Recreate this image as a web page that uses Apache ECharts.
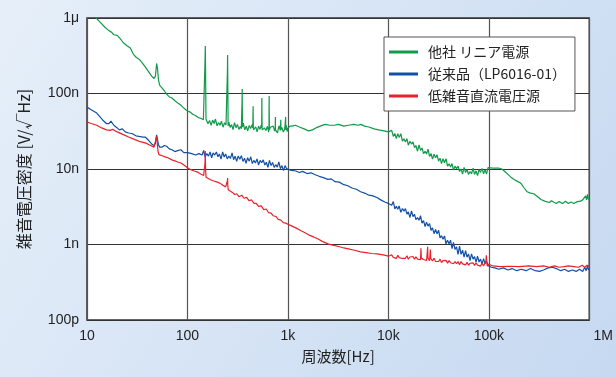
<!DOCTYPE html>
<html>
<head>
<meta charset="utf-8">
<script src="https://cdn.jsdelivr.net/npm/echarts@6/dist/echarts.min.js"></script>
<style>
  html, body { margin: 0; padding: 0; }
  #chart { width: 616px; height: 377px; }
</style>
</head>
<body>
<div id="chart"></div>
<script>
// Noise voltage density [nV/√Hz] vs frequency [Hz]

const seriesNames = ['他社 リニア電源', '従来品（LP6016-01）', '低雑音直流電圧源'];
const xTickLabels = ['10', '100', '1k', '10k', '100k', '1M'];   // 10^1 .. 10^6 Hz
const yTickLabels = ['100p', '1n', '10n', '100n', '1μ'];       // 10^-1 .. 10^3 nV

// 他社 リニア電源
const otherLinear = [
  [12.3,1000],[13.5,880],[15,760],[16.3,690],[17.5,650],[18.5,600],[20,590],[21.5,530],[23,470],[25,430],
  [27,400],[29,330],[31,300],[33,285],[35,260],[38,225],[41,195],[44,170],[46.5,158],[48,170],
  [49.3,250],[50.3,215],[51.5,150],[53,128],[56,118],[59,108],[62,98],[66,90],[70,87],[75,80],
  [80,75],[85,71],[90,66],[95,62],[101,58],[106,57],[113,53],[120,51],[128,48],[136,47],[144,45],
  [148,44],[149.5,260],[150.5,426],[151.5,200],[153,46],
  [155,46],[160,39.7],[166,44.0],[172,37.8],[178,44.5],[184,40.1],[190,45.9],[197,37.4],[204,41.1],[211,38.0],
  [218,42.9],[226,35.8],[234,41.0],[242,38.3],
  [248,38],[250,200],[251,323],[252,150],[254,37],
  [258,41.6],[266,35.6],[275,38.7],[284,33.2],[294,41.1],[304,35.3],[314,38.8],[325,33.5],[336,36.6],[344,34.2],
  [348,36],[349.5,80],[350.5,115],[351.5,70],[353,36],
  [360,40.5],[372,33.1],[385,36.9],[398,31.9],[412,37.8],[426,34.4],[440,38.5],
  [447,35],[449.5,55],[450.5,68],[451.5,45],[454,33],
  [462,32.4],[478,36.1],[494,31.1],[511,36.9],[528,33.4],[543,38.4],
  [548,35],[549.5,65],[550.5,87],[551.5,55],[554,33],
  [565,31.5],[584,34.9],[604,32.4],[625,36.8],[643,30.9],
  [648,35],[649.5,70],[650.5,93],[651.5,60],[654,33],
  [668,35.7],[691,33.7],[714,37.0],[738,31.9],
  [748,34],[750,49],[752,33],
  [762,34.8],[788,30.1],[815,37.4],[840,32.4],
  [848,34],[850,45],[852,33],
  [870,35.6],[900,30.9],[930,33.8],[945,31.8],
  [948,35],[950,49],[952,33],
  [962,37.9],[985,31.2],[1000,34.8],
  [1050,37],[1100,37],[1190,38],[1300,36],[1450,34],[1600,32],[1750,33],[1900,35],[2100,37],[2350,39],
  [2600,38],[2900,38],[3200,39],[3600,37],[4000,38],[4500,39],[5000,38],[5300,39],[5800,37],[6400,36],
  [7200,34],[8000,33],[9000,32],[10000,31],[10400,30],
  [10800,32.5],[11200,27],[11600,29.6],[12000,25.2],[12400,29.4],[12800,26.2],[13300,29.3],[13800,23.4],[14300,25.1],[14800,22.7],
  [15300,25.2],[15800,20.7],[16400,23.3],[17000,21.4],[17600,22.9],[18200,19.2],[18800,20.5],[19500,17.2],[20200,20.9],[20900,17.6],
  [21600,19.0],[22400,16.0],[23200,17.2],[24000,15.8],[24800,18.3],[25700,14.7],[26600,16.0],[27500,13.5],[28500,15.7],[29500,14.1],
  [30500,15.5],[31600,12.7],[32700,13.9],[33800,11.8],[35000,13.7],[36200,12.1],[37500,13.7],[38800,10.9],[40200,11.7],[41600,10.6],
  [43000,11.8],[44500,9.7],[46100,10.9],[47700,10.1],[49400,10.9],[51100,9.26],[52900,10.0],[54800,8.54],[56700,10.5],[58700,9.0],
  [60700,9.86],[62800,8.46],[65000,9.24],[67300,8.65],[69700,10.3],[72100,8.46],[74600,9.46],[77200,8.19],[79900,9.79],[82700,9.02],
  [85600,10.2],[88600,8.65],[91700,9.78],[94900,8.55],[98200,10.4],
  [100000,10.0],[110000,10.3],[125000,10.3],[135000,10.0],[145000,9.2],[155000,8.5],[166000,7.8],[180000,7.2],[195000,6.8],[208000,6.5],
  [225000,5.6],[240000,5.0],[260000,4.8],[280000,4.7],[300000,4.4],[330000,3.95],[360000,3.75],[400000,3.6],[420000,3.8],[440000,3.65],
  [470000,3.5],[500000,3.7],[540000,3.5],[580000,3.75],[620000,3.5],[660000,3.65],[700000,3.5],[760000,3.7],[820000,3.75],[860000,3.9],
  [890000,3.75],[920000,4.4],[940000,3.9],[960000,4.6],[980000,4.0],[1000000,3.9]
];

// 従来品（LP6016-01）
const previousModel = [
  [10,66],[11,61],[12.5,55],[14.3,44.6],[15.6,40],[16.5,40],[17.3,43],[18.5,38],[20,35],[21,33],
  [22.5,34],[24,31],[26,30],[28,29.5],[30.7,27.5],[33,27],[36,26.5],[38,26.5],[41,24],[44,21.5],
  [46.5,20.5],[48,22],[49.3,28.3],[50.3,27],[51.5,21],[53,19.5],[56,19.5],[59,20.5],[62,20],[66,18.5],
  [70,18],[75,17],[80,17.5],[86,18],[92,16.5],[101,16.5],[110,16],[121,15.3],[130,16],
  [140,15.3],[145,17.6],[150,14.4],[156,16.0],[162,14.8],[168,16.8],[174,14.1],[180,16.3],[187,15.3],[194,16.8],
  [201,14.5],[208,15.8],[216,13.5],[224,16.8],[232,14.4],[240,15.8],[249,13.6],[258,14.8],[268,13.8],[278,16.3],
  [288,13.3],[298,14.8],[309,12.6],[320,14.9],[332,13.5],[344,15.0],[357,12.6],[370,13.9],[383,11.9],[397,14.1],
  [412,12.7],[427,14.5],[442,11.8],[458,13.0],[475,12.0],[492,13.6],[510,11.3],[529,13.0],[548,12.1],[568,13.2],
  [589,11.3],[610,12.3],[632,10.5],[655,13.0],[679,11.1],[704,12.2],[730,10.5],[756,11.4],[784,10.6],[812,12.4],
  [842,10.1],[872,11.1],[904,9.5],[937,11.1],[971,10.1],[1000,10.2],
  [1080,9.6],[1200,9.4],[1300,9.0],[1400,9.3],[1550,8.7],[1700,8.9],[1870,8.4],[2050,8.0],[2250,7.7],[2500,7.3],
  [2700,7.4],[2950,6.8],[3250,6.7],[3600,6.2],[3950,6.0],[4350,5.6],[4800,5.4],[5300,5.0],[5800,4.8],[6400,4.5],
  [7000,4.4],[7700,4.2],[8400,3.9],[9200,3.65],[10000,3.5],[10400,3.45],
  [10800,3.3],[11200,3.7],[11600,2.96],[12000,3.21],[12400,2.93],[12800,3.24],[13300,2.67],[13800,3.0],[14300,2.77],[14800,2.99],
  [15300,2.52],[15800,2.7],[16400,2.28],[17000,2.78],[17600,2.34],[18200,2.52],[18800,2.13],[19500,2.28],[20200,2.09],[20900,2.41],
  [21600,1.92],[22400,2.07],[23200,1.73],[24000,1.98],[24800,1.75],[25700,1.89],[26600,1.54],[27500,1.66],[28500,1.39],[29500,1.58],
  [30500,1.39],[31600,1.55],[32700,1.22],[33800,1.31],[35000,1.17],[36200,1.3],[37500,1.02],[38800,1.14],[40200,1.02],[41600,1.14],
  [43000,0.88],[44500,1.07],[46100,0.86],[47700,0.93],[49400,0.74],[51100,0.95],[52900,0.74],[54800,0.84],[56700,0.68],[58700,0.83],
  [60700,0.68],[62800,0.75],[65000,0.61],[67300,0.75],[69700,0.64],[72100,0.69],[74600,0.585],[77200,0.70],[79900,0.586],[82700,0.64],
  [85600,0.55],[88600,0.65],[91700,0.555],[94900,0.61],[98200,0.525],
  [100000,0.55],[106000,0.5],[115000,0.49],[125000,0.47],[140000,0.49],[155000,0.46],[170000,0.48],[190000,0.45],[210000,0.47],[235000,0.45],
  [260000,0.48],[290000,0.45],[320000,0.44],[350000,0.46],[390000,0.49],[430000,0.5],[470000,0.48],[520000,0.45],[570000,0.47],[620000,0.44],
  [680000,0.46],[740000,0.44],[800000,0.47],[860000,0.44],[900000,0.5],[930000,0.45],[960000,0.52],[980000,0.46],[1000000,0.48]
];

// 低雑音直流電圧源
const lowNoiseSource = [
  [10,42],[11,40],[12.5,38],[14,35],[15.6,33],[17,32.5],[18,33.5],[20,31],[23,28.5],[26,26.5],
  [30,24.5],[34,23],[38.5,22],[43,20.5],[46.5,19.5],[48.5,19],[49.3,27],[50.3,26],[51,17],[52,15.5],
  [56,15],[60,14.5],[64.5,14],[70,13.2],[75,12.8],[80,12.4],[86,12],[93,11.2],[100,10.4],[108,9.8],
  [117,9.4],[126,9.1],[135,8.6],[145,8.2],
  [148,8.0],[149.5,12],[150.5,17.3],[151.5,10],[153,7.8],
  [160,7.5],[170,7.2],[180,7.0],[198,6.7],[210,6.5],[225,6.1],[240,5.8],
  [248,5.6],[250,7.0],[251,7.6],[252,6.0],[255,5.3],
  [265,5.1],[280,4.9],[295,4.6],[310,4.7],[325,4.3],[347,4.5],[365,4.1],[388,4.2],[410,3.8],[434,3.9],
  [460,3.5],[485,3.5],[510,3.2],[543,3.25],[575,2.9],[608,2.95],[640,2.65],[680,2.6],[715,2.4],[760,2.35],
  [800,2.15],[850,2.1],[900,1.95],[952,1.92],[1000,1.85],
  [1100,1.75],[1200,1.66],[1350,1.52],[1500,1.42],[1650,1.32],[1800,1.26],[2000,1.18],[2200,1.1],[2500,1.02],[2800,0.98],
  [3200,0.94],[3600,0.9],[4100,0.87],[4600,0.84],[5300,0.8],[6000,0.78],[6800,0.76],[7700,0.75],[8900,0.73],[10000,0.7],
  [10800,0.73],[11200,0.674],[11600,0.704],[12000,0.654],[12400,0.72],[12800,0.67],[13300,0.702],[13800,0.653],[14300,0.685],[14800,0.656],
  [15300,0.708],[15800,0.638],[16400,0.683],[17000,0.661],[17600,0.693],[18200,0.637],[18800,0.688],[19500,0.64],[20200,0.67],[20900,0.628],
  [21100,0.89],[21300,0.66],[21600,0.68],[22400,0.634],[23200,0.663],[24000,0.614],[24400,0.8],[24600,0.93],[24800,0.66],[25700,0.61],
  [26000,0.75],[26200,0.86],[26400,0.655],[27500,0.605],[28500,0.66],[29500,0.595],[30500,0.63],[31600,0.595],[32700,0.64],[33800,0.575],
  [35000,0.612],[36200,0.59],[37500,0.618],[38800,0.567],[40200,0.612],[41600,0.573],[43000,0.6],[44500,0.556],[46100,0.593],[47700,0.556],
  [49400,0.593],[51100,0.54],[52900,0.594],[54800,0.553],[56700,0.579],[58700,0.538],[60700,0.58],[62800,0.53],[65000,0.565],[67300,0.546],
  [69700,0.572],[72100,0.526],[74600,0.573],[77200,0.533],[79900,0.558],[82700,0.518],[85600,0.565],[88600,0.52],[91700,0.55],[93500,0.6],
  [94500,0.72],[95500,0.56],[96500,0.515],[98200,0.55],[100000,0.53],
  [110000,0.52],[130000,0.51],[160000,0.515],[200000,0.51],[250000,0.52],[300000,0.51],[350000,0.52],[400000,0.5],[450000,0.52],
  [500000,0.5],[560000,0.51],[620000,0.52],[700000,0.51],[780000,0.5],[850000,0.53],[900000,0.5],[950000,0.53],[1000000,0.52]
];

const lineColors = ['#109a4a', '#1150a6', '#e8212b'];
const labelFont = "'Liberation Sans', 'Noto Sans CJK JP', sans-serif";
const jpFont = "'Noto Sans CJK JP', sans-serif";

const decade = v => Math.round(Math.log10(v));

const chart = echarts.init(document.getElementById('chart'), null, { renderer: 'canvas' });

chart.setOption({
  animation: false,
  graphic: [{
    type: 'rect',
    z: -100,
    silent: true,
    shape: { x: 0, y: 0, width: 616, height: 377 },
    style: {
      fill: new echarts.graphic.LinearGradient(0, 0, 1, 1, [
        { offset: 0, color: '#e6eff9' },
        { offset: 1, color: '#c6d9f1' }
      ])
    }
  }],
  grid: {
    left: 87, top: 18, right: 16, bottom: 57,
    show: true,
    backgroundColor: '#ffffff',
    borderColor: '#333333',
    borderWidth: 1.5
  },
  legend: {
    orient: 'vertical',
    left: 384, top: 37,
    padding: [7, 9, 7, 5],
    itemGap: 6,
    itemWidth: 29,
    itemHeight: 3,
    icon: 'rect',
    backgroundColor: '#ffffff',
    borderColor: '#555555',
    borderWidth: 1,
    borderRadius: 0,
    textStyle: { fontFamily: jpFont, fontSize: 14, color: '#222', lineHeight: 16, padding: [0, 0, 0, 5] },
    data: seriesNames
  },
  xAxis: {
    type: 'log',
    logBase: 10,
    min: 10, max: 1e6,
    name: '周波数[Hz]',
    nameLocation: 'middle',
    nameGap: 29,
    nameTextStyle: { fontFamily: jpFont, fontSize: 15, color: '#222' },
    axisLine: { show: false },
    axisTick: { show: false },
    minorTick: { show: false },
    splitLine: { show: true, lineStyle: { color: '#555', width: 1.2 } },
    axisLabel: {
      margin: 9,
      fontFamily: labelFont, fontSize: 14, color: '#222',
      formatter: v => {
        const t = xTickLabels[decade(v) - 1];
        return t === '1M' ? '{edge|1M}' : t;
      },
      rich: { edge: { fontFamily: labelFont, fontSize: 14, color: '#222', padding: [0, 0, 0, 28] } }
    }
  },
  yAxis: {
    type: 'log',
    logBase: 10,
    min: 0.1, max: 1000,
    name: '雑音電圧密度 [V/√Hz]',
    nameLocation: 'middle',
    nameGap: 55,
    nameTextStyle: { fontFamily: jpFont, fontSize: 16, color: '#222' },
    axisLine: { show: false },
    axisTick: { show: false },
    minorTick: { show: false },
    splitLine: { show: true, lineStyle: { color: '#333', width: 1.2 } },
    axisLabel: {
      margin: 8,
      fontFamily: labelFont, fontSize: 14, color: '#222',
      formatter: v => yTickLabels[decade(v) + 1]
    }
  },
  series: [otherLinear, previousModel, lowNoiseSource].map((d, i) => ({
    name: seriesNames[i],
    type: 'line',
    data: d,
    symbol: 'none',
    clip: true,
    color: lineColors[i],
    lineStyle: { color: lineColors[i], width: 1.2 },
    z: 3 + i
  }))
});
</script>
</body>
</html>
